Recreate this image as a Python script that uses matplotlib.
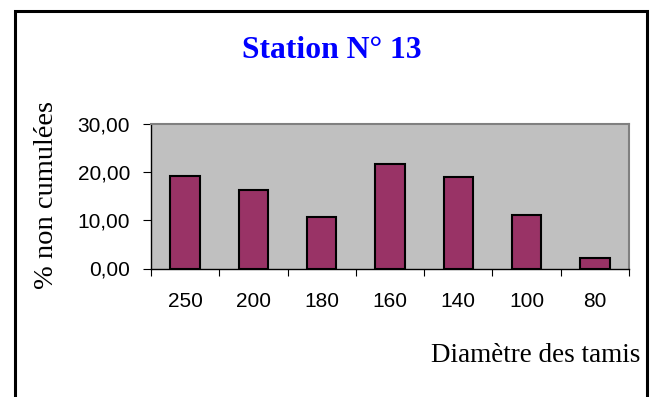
import matplotlib.pyplot as plt
import numpy as np
from matplotlib.patches import Rectangle

# donnees
tamis = ["250", "200", "180", "160", "140", "100", "80"]
pourcent = [19.3, 16.2, 10.75, 21.7, 18.9, 11.2, 2.2]
yticks = [0, 10, 20, 30]

fig = plt.figure(figsize=(6.55, 3.97), dpi=100)
W, H = 655.0, 397.0

# cadre exterieur
fig.patches.append(Rectangle((14.5 / W, -0.05), (647 - 14.5) / W, 1.05 - 10.5 / H,
                             transform=fig.transFigure, fill=False,
                             edgecolor="black", linewidth=2.2))

ax = fig.add_axes([151 / W, 1 - 268.5 / H, (629 - 151) / W, (268.5 - 124) / H])
ax.set_facecolor("#c0c0c0")

x = np.arange(len(tamis))
ax.bar(x, pourcent, width=0.43, color="#993366", edgecolor="black", linewidth=1.5, zorder=3)

ax.set_xlim(-0.5, len(tamis) - 0.5)
ax.set_ylim(0, 30)
ax.set_yticks(yticks)
ax.set_yticklabels([("%.2f" % v).replace(".", ",") for v in yticks],
                   fontfamily="Liberation Sans", fontsize=15)
ax.set_xticks(np.arange(-0.5, len(tamis), 1))
ax.set_xticklabels([])
ax.set_xticks(x, minor=True)
ax.set_xticklabels(tamis, minor=True, fontfamily="Liberation Sans", fontsize=15)
ax.tick_params(axis="x", which="minor", length=0, pad=17)
ax.tick_params(axis="x", which="major", length=5, direction="out", color="black")
ax.tick_params(axis="y", length=6, direction="out", pad=9)

for s in ["top", "right"]:
    ax.spines[s].set_color("#808080")
    ax.spines[s].set_linewidth(1.5)
for s in ["left", "bottom"]:
    ax.spines[s].set_color("black")
    ax.spines[s].set_linewidth(1.0)

fig.text(332 / W, 1 - 58.3 / H, "Station N° 13", ha="center", va="baseline",
         fontfamily="Liberation Serif", fontweight="bold", fontsize=22.8, color="#0000ff")
fig.text(47 / W, 1 - 195 / H, "% non cumulées", ha="center", va="center", rotation=90,
         fontfamily="Liberation Serif", fontsize=20.5)
fig.text(640 / W, 1 - 361.7 / H, "Diamètre des tamis", ha="right", va="baseline",
         fontfamily="Liberation Serif", fontsize=19.5)

fig.savefig("out.png", dpi=100)
